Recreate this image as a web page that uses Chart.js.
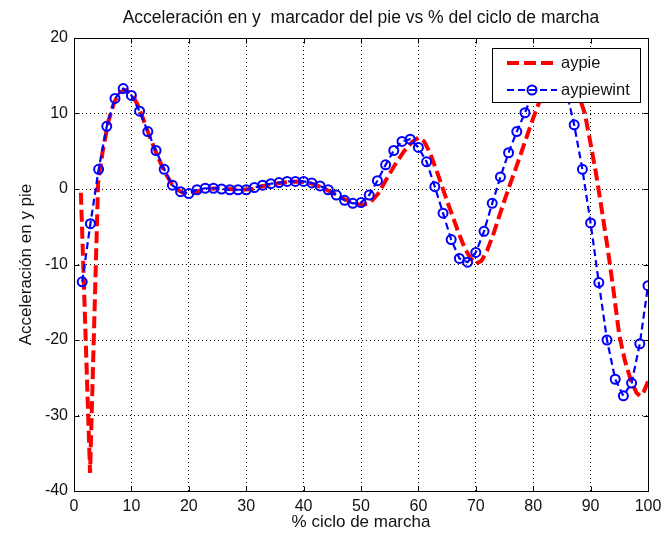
<!DOCTYPE html>
<html>
<head>
<meta charset="utf-8">
<script src="https://cdn.jsdelivr.net/npm/chart.js@4.4.0/dist/chart.umd.min.js"></script>
<style>
  html, body { margin: 0; padding: 0; background: #fff; }
</style>
</head>
<body>
<canvas id="chart" width="668" height="540"></canvas>
<script>
const chartTitle = 'Acceleración en y  marcador del pie vs % del ciclo de marcha';
const xLabel = '% ciclo de marcha';
const yLabel = 'Acceleración en y pie';
const seriesNames = ['aypie', 'aypiewint'];

const xTicks = [0, 10, 20, 30, 40, 50, 60, 70, 80, 90, 100];
const yTicks = [-40, -30, -20, -10, 0, 10, 20];

// aypie (red dashed)
const aypieX = [1.2, 2.8, 4.2, 5, 6, 7, 8, 9, 10, 11, 12, 13, 14, 15, 16, 17, 18, 19, 20,
  21.5, 23, 25, 27, 29, 31, 33, 35, 37, 39, 41, 42.5, 44, 45.5, 47, 48.5, 50, 51.5, 53,
  54.5, 56, 57.5, 59, 60, 61, 62, 63, 64, 65, 66, 67, 68, 69, 70, 71, 72, 73, 74, 75, 76,
  77, 78, 79, 80, 81, 82, 83, 84, 85, 86, 87, 88, 89, 90, 91, 92, 93, 94, 95, 96, 97, 98,
  98.6, 99.3, 100];
const aypieY = [-0.5, -37.6, 0.8, 5.0, 9.0, 11.5, 12.8, 13.1, 12.6, 11.3, 9.4, 7.3, 5.4, 3.6,
  2.0, 0.7, -0.1, -0.5, -0.6, -0.3, 0.0, 0.1, 0.0, -0.1, 0.0, 0.4, 0.7, 0.9, 1.0, 0.8, 0.4,
  -0.1, -0.7, -1.3, -1.8, -2.1, -1.9, -0.6, 1.4, 3.3, 5.0, 6.3, 6.8, 6.3, 4.8, 2.8, 0.6,
  -1.6, -3.7, -5.8, -7.7, -9.1, -9.9, -9.5, -8.1, -6.1, -3.8, -1.5, 0.7, 2.8, 5.0, 7.2,
  9.4, 11.4, 13.2, 14.6, 15.5, 15.8, 15.4, 14.2, 12.3, 10.0, 6.0, 1.8, -3.0, -8.0, -13.5,
  -19.4, -22.8, -25.3, -27.0, -27.4, -26.8, -25.5];

// aypiewint (blue dashed with circles)
const aypiewintX = [1.43, 2.86, 4.29, 5.71, 7.14, 8.57, 10.00, 11.43, 12.86, 14.29,
  15.71, 17.14, 18.57, 20.00, 21.43, 22.86, 24.29, 25.71, 27.14, 28.57,
  30.00, 31.43, 32.86, 34.29, 35.71, 37.14, 38.57, 40.00, 41.43, 42.86,
  44.29, 45.71, 47.14, 48.57, 50.00, 51.43, 52.86, 54.29, 55.71, 57.14,
  58.57, 60.00, 61.43, 62.86, 64.29, 65.71, 67.14, 68.57, 70.00, 71.43,
  72.86, 74.29, 75.71, 77.14, 78.57, 80.00, 81.43, 82.86, 84.29, 85.71,
  87.14, 88.57, 90.00, 91.43, 92.86, 94.29, 95.71, 97.14, 98.57, 100.00];
const aypiewintY = [-12.3, -4.6, 2.6, 8.3, 12.0, 13.3, 12.4, 10.3, 7.6, 5.1,
  2.6, 0.5, -0.35, -0.6, -0.1, 0.1, 0.1, 0.0, -0.1, -0.1,
  -0.1, 0.2, 0.5, 0.7, 0.85, 1.0, 1.0, 1.0, 0.8, 0.4,
  -0.1, -0.8, -1.5, -1.9, -1.8, -0.8, 1.1, 3.2, 5.1, 6.3,
  6.6, 5.5, 3.6, 0.3, -3.2, -6.7, -9.2, -9.7, -8.4, -5.6,
  -1.9, 1.6, 4.8, 7.6, 10.1, 12.9, 15.0, 16.0, 15.6, 13.2,
  8.5, 2.6, -4.5, -12.4, -20.0, -25.2, -27.4, -25.7, -20.5, -12.8];

const font = '"Liberation Sans", Arial, Helvetica, sans-serif';
const textColor = '#111';

const toPoints = (xs, ys) => xs.map((x, i) => ({ x, y: ys[i] }));

// title, box, inward ticks
const framePlugin = {
  id: 'frame',
  afterDraw(chart) {
    const { ctx, chartArea: a, scales: { x, y } } = chart;
    ctx.save();
    ctx.setLineDash([]);
    ctx.strokeStyle = '#000';
    ctx.lineWidth = 1;
    const l = Math.round(a.left) + 0.5, r = Math.round(a.right) + 0.5;
    const t = Math.round(a.top) + 0.5, b = Math.round(a.bottom) + 0.5;
    ctx.strokeRect(l, t, r - l, b - t);
    ctx.beginPath();
    xTicks.forEach(v => {
      const px = Math.round(x.getPixelForValue(v)) + 0.5;
      ctx.moveTo(px, b); ctx.lineTo(px, b - 5);
      ctx.moveTo(px, t); ctx.lineTo(px, t + 5);
    });
    yTicks.forEach(v => {
      const py = Math.round(y.getPixelForValue(v)) + 0.5;
      ctx.moveTo(l, py); ctx.lineTo(l + 5, py);
      ctx.moveTo(r, py); ctx.lineTo(r - 5, py);
    });
    ctx.stroke();

    ctx.fillStyle = textColor;
    ctx.font = '17.5px ' + font;
    ctx.textAlign = 'center';
    ctx.textBaseline = 'middle';
    ctx.fillText(chartTitle, (a.left + a.right) / 2, 18);
    ctx.restore();
  }
};

// MATLAB style legend box inside the axes, drawn over the lines
const legendPlugin = {
  id: 'boxLegend',
  afterDatasetsDraw(chart) {
    const { ctx, chartArea: a } = chart;
    const ds = chart.data.datasets;
    const bx = Math.round(a.right) - 156, by = Math.round(a.top) + 10, bw = 148, bh = 54;
    ctx.save();
    ctx.fillStyle = '#fff';
    ctx.fillRect(bx, by, bw, bh);
    ctx.strokeStyle = '#000';
    ctx.lineWidth = 1;
    ctx.strokeRect(bx + 0.5, by + 0.5, bw, bh);

    const rows = [by + 15, by + 42];
    ds.forEach((d, i) => {
      const yy = rows[i];
      ctx.strokeStyle = d.borderColor;
      ctx.lineWidth = d.borderWidth;
      ctx.setLineDash(d.borderDash);
      ctx.beginPath();
      ctx.moveTo(bx + 15, yy);
      ctx.lineTo(bx + 65, yy);
      ctx.stroke();
      if (d.pointRadius > 0) {
        ctx.setLineDash([]);
        ctx.lineWidth = d.pointBorderWidth;
        ctx.beginPath();
        ctx.arc(bx + 40, yy, d.pointRadius, 0, Math.PI * 2);
        ctx.stroke();
      }
      ctx.fillStyle = textColor;
      ctx.font = '16.5px ' + font;
      ctx.textAlign = 'left';
      ctx.textBaseline = 'middle';
      ctx.fillText(d.label, bx + 69, yy);
    });
    ctx.restore();
  }
};

new Chart(document.getElementById('chart'), {
  type: 'line',
  data: {
    datasets: [
      {
        label: seriesNames[0],
        data: toPoints(aypieX, aypieY),
        borderColor: '#ff0000',
        borderWidth: 4,
        borderDash: [12, 5],
        pointRadius: 0,
        tension: 0,
        order: 1
      },
      {
        label: seriesNames[1],
        data: toPoints(aypiewintX, aypiewintY),
        borderColor: '#0000ff',
        borderWidth: 2.2,
        borderDash: [7, 4],
        pointRadius: 4.5,
        pointBorderWidth: 2,
        pointBorderColor: '#0000ff',
        pointBackgroundColor: 'rgba(0,0,0,0)',
        tension: 0,
        order: 0
      }
    ]
  },
  options: {
    responsive: false,
    animation: false,
    layout: { padding: { top: 38, right: 20, left: 0, bottom: 0 } },
    plugins: {
      legend: { display: false },
      tooltip: { enabled: false },
      title: { display: false }
    },
    scales: {
      x: {
        type: 'linear',
        min: xTicks[0],
        max: xTicks[xTicks.length - 1],
        afterBuildTicks: s => { s.ticks = xTicks.map(v => ({ value: v })); },
        afterFit: s => { s.height = 49; },
        grid: { color: '#000', lineWidth: 1, drawTicks: false },
        border: { display: false, dash: [1, 3] },
        ticks: { color: textColor, font: { family: font, size: 16 }, padding: 6, maxRotation: 0 },
        title: {
          display: true, text: xLabel, color: textColor,
          font: { family: font, size: 17 }, padding: { top: 0, bottom: 7 }
        }
      },
      y: {
        type: 'linear',
        min: yTicks[0],
        max: yTicks[yTicks.length - 1],
        afterBuildTicks: s => { s.ticks = yTicks.map(v => ({ value: v })); },
        afterFit: s => { s.width = 74; },
        grid: { color: '#000', lineWidth: 1, drawTicks: false },
        border: { display: false, dash: [1, 3] },
        ticks: { color: textColor, font: { family: font, size: 16 }, padding: 6 },
        title: {
          display: true, text: yLabel, color: textColor,
          font: { family: font, size: 17 }, padding: { top: 16, bottom: 0 }
        }
      }
    }
  },
  plugins: [framePlugin, legendPlugin]
});
</script>
</body>
</html>
